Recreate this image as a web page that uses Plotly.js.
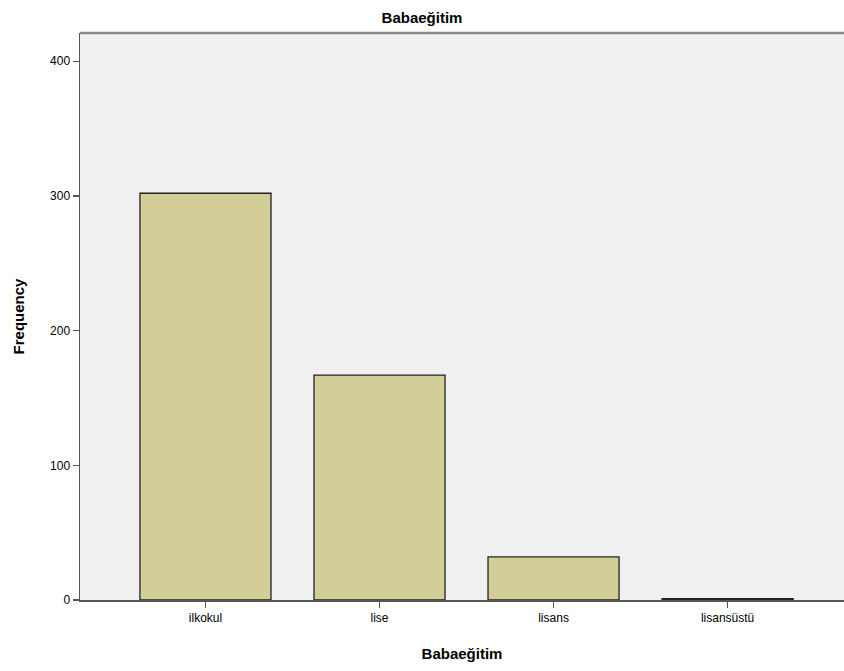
<!DOCTYPE html>
<html>
<head>
<meta charset="utf-8">
<script src="https://cdn.plot.ly/plotly-3.0.1.min.js"></script>
<style>html,body{margin:0;padding:0;background:#fff;}#chart{width:844px;height:671px;}</style>
</head>
<body>
<div id="chart"></div>
<script>
var categories = ["ilkokul", "lise", "lisans", "lisansüstü"];
var frequencies = [302, 167, 32, 1];
var yTicks = [0, 100, 200, 300, 400];
var titleText = "Babaeğitim";
var xTitle = "Babaeğitim";
var yTitle = "Frequency";

var trace = {
  type: "bar",
  x: categories,
  y: frequencies,
  width: 0.753,
  marker: {color: "#d3ce97", line: {color: "#222", width: 1.3}},
  hoverinfo: "x+y"
};
var layout = {
  width: 844, height: 671,
  margin: {l: 80, r: 0, t: 33, b: 71},
  paper_bgcolor: "#ffffff",
  plot_bgcolor: "#f0f0f0",
  font: {family: "Liberation Sans, Arial, sans-serif", color: "#000", size: 12},
  title: {text: titleText, font: {size: 15, family: "Liberation Sans, Arial, sans-serif", weight: "bold"}, x: 0.5, xanchor: "center", yref: "container", y: 0.973, yanchor: "middle"},
  bargap: 0.247,
  xaxis: {
    range: [-0.721, 3.669],
    showline: true, linecolor: "#555", linewidth: 1.5,
    ticks: "outside", ticklen: 6, tickcolor: "#555", tickwidth: 1.5,
    showgrid: false, zeroline: false,
    tickfont: {size: 12},
    title: {text: xTitle, font: {size: 15, weight: "bold"}, standoff: 24}
  },
  yaxis: {
    range: [0, 421],
    tickvals: yTicks,
    showline: true, linecolor: "#555", linewidth: 1.5,
    ticks: "outside", ticklen: 6, tickcolor: "#555", tickwidth: 1.5,
    showgrid: false, zeroline: false,
    tickfont: {size: 12},
    title: {text: yTitle, font: {size: 15, weight: "bold"}, standoff: 22}
  },
  shapes: [{type: "line", xref: "paper", yref: "paper", x0: 0, x1: 1, y0: 1, y1: 1, line: {color: "#888", width: 2.5}}],
  showlegend: false
};
Plotly.newPlot("chart", [trace], layout, {displayModeBar: false, staticPlot: true});
</script>
</body>
</html>
